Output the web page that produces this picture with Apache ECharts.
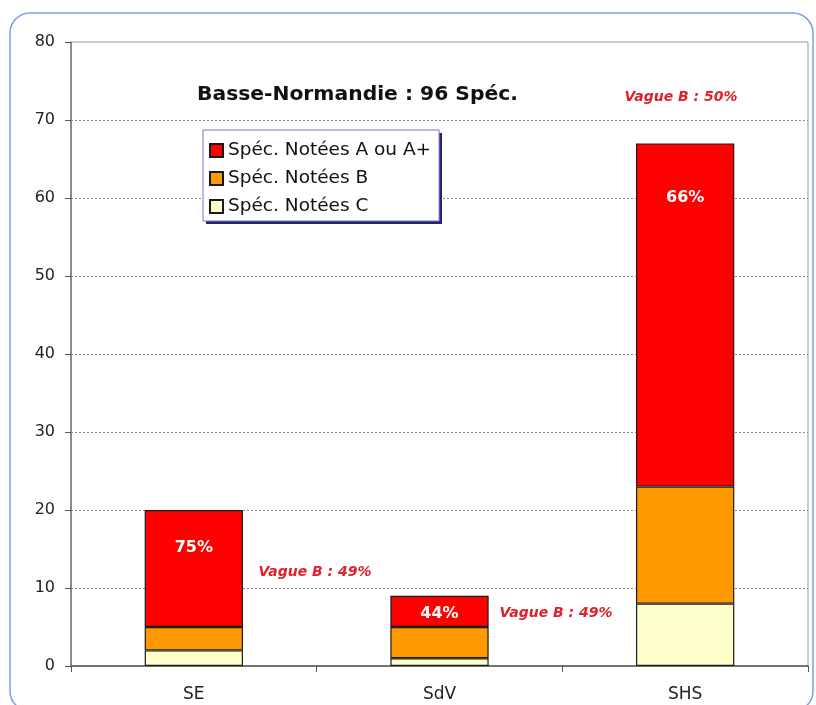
<!DOCTYPE html>
<html>
<head>
<meta charset="utf-8">
<script src="https://cdn.jsdelivr.net/npm/echarts@6/dist/echarts.min.js"></script>
<style>
html,body{margin:0;padding:0;background:#fff;}
#chart{width:816px;height:705px;}
</style>
</head>
<body>
<div id="chart"></div>
<script>
const categories = ['SE', 'SdV', 'SHS'];
const notesC = [2, 1, 8];
const notesB = [3, 4, 15];
const notesA = [15, 4, 44];
const pctLabels = ['75%', '44%', '66%'];
const vagueLabels = ['Vague B : 49%', 'Vague B : 49%', 'Vague B : 50%'];
const seriesNames = ['Spéc. Notées A ou A+', 'Spéc. Notées B', 'Spéc. Notées C'];
const titleText = 'Basse-Normandie : 96 Spéc.';

const FONT = 'DejaVu Sans';
const labelDist = [30, 10, 46];
const vaguePos = [[315, 572], [556, 613], [681, 97]];

const chart = echarts.init(document.getElementById('chart'), null, {renderer: 'canvas'});
const barBorder = {borderColor: '#1a1a1a', borderWidth: 1.2};

const option = {
  animation: false,
  backgroundColor: '#fff',
  title: {
    text: titleText,
    left: 197,
    top: 85,
    padding: 0,
    textStyle: {fontFamily: FONT, fontSize: 20.3, fontWeight: 'bold', color: '#111'}
  },
  legend: {
    data: seriesNames,
    orient: 'vertical',
    left: 203,
    top: 130,
    padding: [11, 8, 5, 6],
    itemGap: 9,
    itemWidth: 13,
    itemHeight: 13,
    icon: 'rect',
    backgroundColor: '#fff',
    borderColor: '#7474cc',
    borderWidth: 1,
    z: 6,
    textStyle: {fontFamily: FONT, fontSize: 18.5, color: '#111'}
  },
  grid: {
    left: 71, right: 8, top: 42, bottom: 39,
    show: true, borderColor: '#9a9a9a', borderWidth: 1, backgroundColor: 'transparent',
    containLabel: false
  },
  xAxis: {
    type: 'category',
    data: categories,
    axisLine: {lineStyle: {color: '#555', width: 1.5}},
    axisTick: {show: true, length: 6, lineStyle: {color: '#555'}},
    axisLabel: {fontFamily: FONT, fontSize: 17, color: '#222', margin: 20}
  },
  yAxis: {
    type: 'value',
    min: 0, max: 80, interval: 10,
    axisLine: {show: true, lineStyle: {color: '#777', width: 1.5}},
    axisTick: {show: true, length: 6, lineStyle: {color: '#555'}},
    axisLabel: {fontFamily: FONT, fontSize: 16, color: '#222', margin: 16},
    splitLine: {show: true, showMinLine: false, showMaxLine: false, lineStyle: {color: '#8a8a8a', type: [2, 2], width: 1}}
  },
  series: [
    {
      name: seriesNames[2], type: 'bar', stack: 'total', barWidth: '40%',
      data: notesC,
      itemStyle: Object.assign({color: '#FFFFCC'}, barBorder)
    },
    {
      name: seriesNames[1], type: 'bar', stack: 'total', barWidth: '40%',
      data: notesB,
      itemStyle: Object.assign({color: '#FF9900'}, barBorder)
    },
    {
      name: seriesNames[0], type: 'bar', stack: 'total', barWidth: '40%',
      data: notesA.map((v, i) => ({value: v, label: {distance: labelDist[i]}})),
      itemStyle: Object.assign({color: '#FF0000'}, barBorder),
      label: {
        show: true,
        position: 'insideTop',
        formatter: p => pctLabels[p.dataIndex],
        fontFamily: FONT, fontSize: 16, fontWeight: 'bold', color: '#fff'
      }
    }
  ],
  graphic: [
    {
      type: 'rect', z: -1, silent: true,
      shape: {x: 10, y: 13, width: 803, height: 698, r: 20},
      style: {fill: 'none', stroke: '#7d9de6', lineWidth: 1.5}
    },
    {
      type: 'rect', z: 5, silent: true,
      shape: {x: 206, y: 133, width: 236, height: 91},
      style: {fill: '#26266e'}
    }
  ].concat(vagueLabels.map((t, i) => ({
    type: 'text', z: 10, silent: true,
    x: vaguePos[i][0], y: vaguePos[i][1],
    style: {
      text: t, fill: '#e0202a', font: 'italic bold 14px "DejaVu Sans"',
      textAlign: 'center', textVerticalAlign: 'middle'
    }
  })))
};
chart.setOption(option);
</script>
</body>
</html>
